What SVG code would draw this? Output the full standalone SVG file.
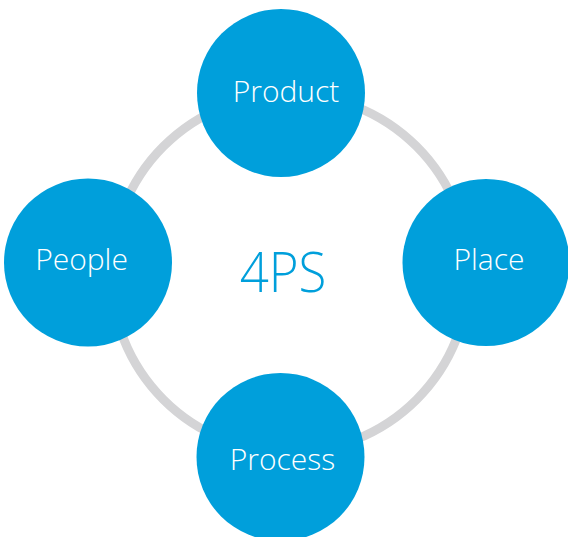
<svg xmlns="http://www.w3.org/2000/svg" width="568" height="537" viewBox="0 0 568 537">
  <style>
    .ring { fill: none; stroke: #d4d4d6; stroke-width: 9; }
    .node circle { fill: #009fdb; }
    .node text { fill: #ffffff; font-family: "Open Sans", "Liberation Sans", sans-serif; font-weight: 300; font-size: 30px; text-anchor: middle; }
    .title { fill: #009fdb; font-family: "Open Sans", "Liberation Sans", sans-serif; font-weight: 300; font-size: 56px; text-anchor: middle; }
  </style>
  <rect width="568" height="537" fill="#ffffff"/>
  <g id="connectors">
    <circle class="ring" cx="290" cy="273" r="179"/>
  </g>
  <text class="title" transform="translate(283,292) scale(0.91,1)">4PS</text>
  <g id="product" class="node">
    <circle cx="281" cy="93" r="84"/>
    <text x="286" y="102">Product</text>
  </g>
  <g id="place" class="node">
    <circle cx="486" cy="262.5" r="83.5"/>
    <text x="489" y="270">Place</text>
  </g>
  <g id="people" class="node">
    <circle cx="88" cy="262.5" r="84"/>
    <text x="81.5" y="270">People</text>
  </g>
  <g id="process" class="node">
    <circle cx="280.5" cy="457" r="84"/>
    <text x="282.5" y="470">Process</text>
  </g>
</svg>
